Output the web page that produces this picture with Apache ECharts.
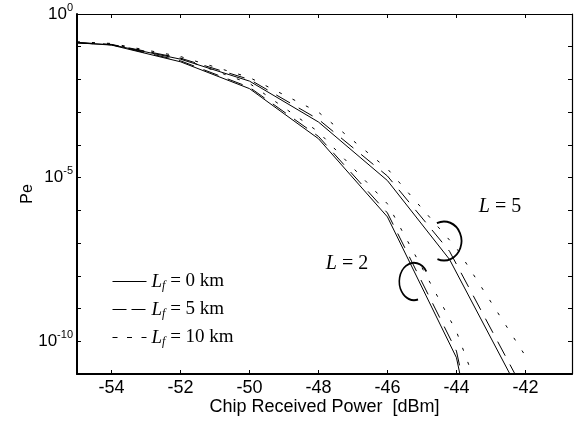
<!DOCTYPE html>
<html><head><meta charset="utf-8">
<script src="https://cdn.jsdelivr.net/npm/echarts@6/dist/echarts.min.js"></script>
<style>html,body{margin:0;padding:0;background:#fff}#c{width:580px;height:423px}</style>
</head><body><div id="c"></div>
<script>
// x values (chip received power, dBm)
const powerDbm = [-55, -54, -52, -50, -48, -46, -44, -42];
const powerDbmL5 = [-55, -54, -52, -50, -48, -46, -44.2, -42];
// Pe values
const peL2Lf0  = [0.1318, 0.1122, 0.03467, 0.005248, 1.549e-4, 6.31e-7, 3.16e-11, 3.16e-21];
const peL2Lf5  = [0.132, 0.1148, 0.03715, 0.005754, 1.82e-4, 8.32e-7, 5.01e-11, 1e-20];
const peL2Lf10 = [0.138, 0.1202, 0.04467, 0.007586, 2.51e-4, 1.585e-6, 2.0e-10, 3.98e-16];
const peL5Lf0  = [0.132, 0.115, 0.0417, 0.00891, 5.01e-4, 8.13e-6, 3.16e-8, 1.26e-12];
const peL5Lf5  = [0.135, 0.1175, 0.0447, 0.01, 6.03e-4, 1.12e-5, 5.62e-8, 2.51e-12];
const peL5Lf10 = [0.1413, 0.1259, 0.0501, 0.01148, 1e-3, 1.86e-5, 7.08e-8, 3.55e-11];
// ticks
const xTicks = [-54, -52, -50, -48, -46, -44, -42];
const yTickValues = [1, 1e-1, 1e-2, 1e-3, 1e-4, 1e-5, 1e-6, 1e-7, 1e-8, 1e-9, 1e-10, 1e-11];
const yLabelValues = [1, 1e-5, 1e-10];
const seriesNames = ['Lf = 0 km', 'Lf = 5 km', 'Lf = 10 km'];
const curveLabels = ['L = 2', 'L = 5'];

const chart = echarts.init(document.getElementById('c'), null, {renderer: 'canvas'});
const dashStyles = ['solid', [16, 10], [3, 12]];
const legendDash = ['solid', [14, 5], [5, 9.5]];
function mk(name, xs, ys, dash) {
  return {
    type: 'line', name: name, data: xs.map((x, i) => [x, ys[i]]),
    symbol: 'none', showSymbol: false, animation: false, clip: true,
    lineStyle: {color: '#000', width: 1, type: dash}, itemStyle: {color: '#000'},
    emphasis: {disabled: true}
  };
}
const sansFont = 'Liberation Sans';
const serifFont = 'Liberation Serif';
const axisCommon = {
  axisLine: {show: true, lineStyle: {color: '#000', width: 1.5}},
  splitLine: {show: false}
};
const option = {
  backgroundColor: '#fff',
  animation: false,
  grid: {left: 77, right: 8, top: 14, bottom: 49},
  xAxis: [
    Object.assign({}, axisCommon, {
      type: 'value', min: -55, max: -40.65, position: 'bottom',
      axisLine: {show: true, onZero: false, lineStyle: {color: '#000', width: 2}},
      axisTick: {show: true, inside: true, length: 4, customValues: xTicks, lineStyle: {color: '#000'}},
      axisLabel: {customValues: xTicks, color: '#000', fontFamily: sansFont, fontSize: 18, margin: 5},
      name: 'Chip Received Power  [dBm]', nameLocation: 'middle', nameGap: 24, nameMoveOverlap: false,
      nameTextStyle: {color: '#000', fontFamily: sansFont, fontSize: 18}
    }),
    Object.assign({}, axisCommon, {
      type: 'value', min: -55, max: -40.65, position: 'top',
      axisLine: {show: true, onZero: false, lineStyle: {color: '#000', width: 1.2}},
      axisTick: {show: true, inside: true, length: 4, customValues: xTicks, lineStyle: {color: '#000'}},
      axisLabel: {show: false}
    })
  ],
  yAxis: [
    Object.assign({}, axisCommon, {
      type: 'log', min: 1e-11, max: 1, position: 'left',
      axisLine: {show: true, onZero: false, lineStyle: {color: '#000', width: 2}},
      axisTick: {show: true, inside: true, length: 4, customValues: yTickValues, lineStyle: {color: '#000'}},
      axisLabel: {
        customValues: yLabelValues, margin: 4, color: '#000',
        formatter: function (v) { const e = Math.round(Math.log10(v)); return '{b|10}{e|' + e + '}'; },
        rich: {
          b: {fontFamily: sansFont, fontSize: 17, color: '#000'},
          e: {fontFamily: sansFont, fontSize: 11, color: '#000', padding: [0, 0, 13, 0]}
        }
      },
      name: 'Pe', nameLocation: 'middle', nameGap: 41, nameRotate: 90, nameMoveOverlap: false,
      nameTextStyle: {color: '#000', fontFamily: sansFont, fontSize: 16}
    }),
    Object.assign({}, axisCommon, {
      type: 'log', min: 1e-11, max: 1, position: 'right',
      axisLine: {show: true, onZero: false, lineStyle: {color: '#000', width: 1.2}},
      axisTick: {show: true, inside: true, length: 4, customValues: yTickValues, lineStyle: {color: '#000'}},
      axisLabel: {show: false}
    })
  ],
  legend: {
    orient: 'vertical', left: 112, top: 272, padding: 0, itemWidth: 34, itemHeight: 14, itemGap: 8.5,
    selectedMode: false,
    itemStyle: {opacity: 0},
    data: seriesNames.map((n, i) => ({name: n, itemStyle: {opacity: 0}, lineStyle: {type: legendDash[i], color: '#000', width: 1}})),
    formatter: function (name) {
      const rest = name.slice(2);
      return '{i|L}{s|f}{r|' + rest + '}';
    },
    textStyle: {
      color: '#000', fontFamily: serifFont, fontSize: 19,
      rich: {
        i: {fontFamily: serifFont, fontStyle: 'italic', fontSize: 19, color: '#000'},
        s: {fontFamily: serifFont, fontStyle: 'italic', fontSize: 12, color: '#000', padding: [8, 0, 0, 0]},
        r: {fontFamily: serifFont, fontSize: 19, color: '#000'}
      }
    }
  },
  series: [
    mk(seriesNames[0], powerDbm, peL2Lf0, dashStyles[0]),
    mk(seriesNames[1], powerDbm, peL2Lf5, dashStyles[1]),
    mk(seriesNames[2], powerDbm, peL2Lf10, dashStyles[2]),
    mk(seriesNames[0], powerDbmL5, peL5Lf0, dashStyles[0]),
    mk(seriesNames[1], powerDbmL5, peL5Lf5, dashStyles[1]),
    mk(seriesNames[2], powerDbm, peL5Lf10, dashStyles[2])
  ],
  graphic: [
    {type: 'text', x: 347, y: 264, style: {
      text: '{i|L}{r|' + curveLabels[0].slice(1) + '}', align: 'center', verticalAlign: 'middle',
      rich: {i: {fontFamily: serifFont, fontStyle: 'italic', fontSize: 20, fill: '#000'},
             r: {fontFamily: serifFont, fontSize: 20, fill: '#000'}}}},
    {type: 'text', x: 500, y: 207, style: {
      text: '{i|L}{r|' + curveLabels[1].slice(1) + '}', align: 'center', verticalAlign: 'middle',
      rich: {i: {fontFamily: serifFont, fontStyle: 'italic', fontSize: 20, fill: '#000'},
             r: {fontFamily: serifFont, fontSize: 20, fill: '#000'}}}},
    {type: 'arc', x: 414, y: 281.5, scaleX: 14.7 / 18.7,
      shape: {cx: 0, cy: 0, r: 18.7, startAngle: -32.6 * Math.PI / 180, endAngle: 74 * Math.PI / 180, clockwise: false},
      style: {fill: null, stroke: '#000', lineWidth: 2}},
    {type: 'arc', x: 444, y: 241, scaleX: 17.5 / 19.5,
      shape: {cx: 0, cy: 0, r: 19.5, startAngle: -114 * Math.PI / 180, endAngle: 112 * Math.PI / 180, clockwise: true},
      style: {fill: null, stroke: '#000', lineWidth: 2}}
  ]
};
chart.setOption(option);
</script>
</body></html>
